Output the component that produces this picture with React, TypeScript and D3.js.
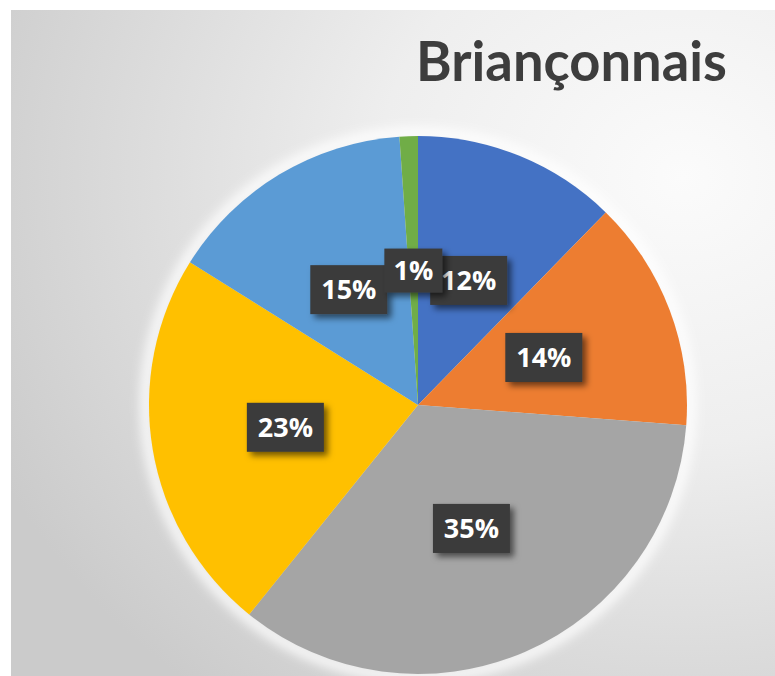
import { useMemo } from "react";
import * as d3 from "d3";

// slice values, clockwise from 12 o'clock
const categories = ["A", "B", "C", "D", "E", "F"];
const values = [12.3, 13.9, 34.6, 23.1, 15.0, 1.1];
const colors = ["#4472C4", "#ED7D31", "#A5A5A5", "#FFC000", "#5B9BD5", "#70AD47"];
const title = "Briançonnais";

const W = 775;
const H = 676;
const cx = 418;
const cy = 405;
const radius = 269;

export default function App() {
  const arcs = useMemo(() => {
    const pie = d3
      .pie<number>()
      .sort(null)
      .value((d) => d);
    return pie(values);
  }, []);

  const arcGen = d3.arc<d3.PieArcDatum<number>>().innerRadius(0).outerRadius(radius);
  const total = d3.sum(values);
  const fmt = (v: number) => `${Math.round((v / total) * 100)}%`;

  return (
    <svg
      width={W}
      height={H}
      style={{ position: "absolute", left: 0, top: 0 }}
      fontFamily="'Open Sans', sans-serif"
    >
      <defs>
        <radialGradient id="bg" cx="88%" cy="25%" r="100%">
          <stop offset="0%" stopColor="#fbfbfb" />
          <stop offset="40%" stopColor="#eeeeee" />
          <stop offset="100%" stopColor="#cbcbcb" />
        </radialGradient>
        <filter id="glow" x="-20%" y="-20%" width="140%" height="140%">
          <feGaussianBlur stdDeviation="6" />
        </filter>
        <filter id="shadow" x="-30%" y="-30%" width="170%" height="170%">
          <feDropShadow dx="4" dy="4" stdDeviation="3" floodColor="#000" floodOpacity="0.55" />
        </filter>
      </defs>

      <rect x={11} y={10} width={W - 11} height={H - 10} fill="url(#bg)" />

      <text
        x={416}
        y={81}
        fontFamily="Lato, 'Open Sans', sans-serif"
        fontWeight={700}
        fontSize={55}
        fill="#3d3d3d"
        textLength={311}
        lengthAdjust="spacingAndGlyphs"
      >
        {title}
      </text>

      <g transform={`translate(${cx},${cy})`}>
        <circle r={radius + 3} fill="none" stroke="#ffffff" strokeWidth={10} filter="url(#glow)" />
        {arcs.map((a, i) => (
          <path key={categories[i]} d={arcGen(a) as string} fill={colors[i]} />
        ))}
        {arcs.map((a, i) => {
          const [lx, ly] = arcGen.centroid(a);
          const label = fmt(a.value);
          const bw = 20 + 19 * label.length;
          const bh = label.length > 2 ? 49 : 44;
          return (
            <g key={`l-${categories[i]}`} transform={`translate(${lx},${ly})`}>
              <rect
                x={-bw / 2}
                y={-bh / 2}
                width={bw}
                height={bh}
                fill="#3a3a3a"
                filter="url(#shadow)"
              />
              <text
                textAnchor="middle"
                dy="0.36em"
                fill="#ffffff"
                fontWeight={700}
                fontSize={27}
              >
                {label}
              </text>
            </g>
          );
        })}
      </g>
    </svg>
  );
}
